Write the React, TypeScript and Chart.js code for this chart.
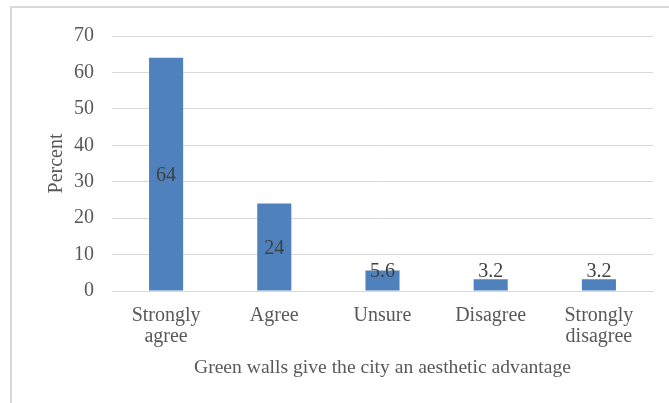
import React, { useEffect, useRef } from "react";
import { Chart, registerables } from "chart.js";

Chart.register(...registerables);

const categories: string[][] = [
  ["Strongly", "agree"],
  ["Agree"],
  ["Unsure"],
  ["Disagree"],
  ["Strongly", "disagree"],
];
const percentValues: number[] = [64, 24, 5.6, 3.2, 3.2];
const valueLabels: string[] = ["64", "24", "5.6", "3.2", "3.2"];
const yMin = 0;
const yMax = 70;
const yStep = 10;

const FONT = "'Liberation Serif', serif";
const FONT_SIZE = 20;
const BAR_COLOR = "#4F81BD";

// Light outer frame around the whole chart.
const framePlugin = {
  id: "frame",
  beforeDraw(chart: Chart) {
    const ctx = chart.ctx;
    ctx.save();
    ctx.strokeStyle = "#d9d9d9";
    ctx.lineWidth = 2;
    ctx.strokeRect(11, 7, chart.width + 50, chart.height + 50);
    ctx.restore();
  },
};

// Value labels: centred in the bar, lifted above short bars.
const valueLabelPlugin = {
  id: "valueLabels",
  afterDatasetsDraw(chart: Chart) {
    const ctx = chart.ctx;
    const meta = chart.getDatasetMeta(0);
    ctx.save();
    ctx.font = `${FONT_SIZE}px ${FONT}`;
    ctx.fillStyle = "#404040";
    ctx.textAlign = "center";
    ctx.textBaseline = "middle";
    meta.data.forEach((bar: any, i: number) => {
      const { x, y, base } = bar.getProps(["x", "y", "base"], true);
      const mid = (y + base) / 2;
      const ly = Math.min(mid, base - 21) + 2;
      ctx.fillText(valueLabels[i], x, ly);
    });
    ctx.restore();
  },
};

export default function App() {
  const canvasRef = useRef<HTMLCanvasElement | null>(null);

  useEffect(() => {
    document.body.style.margin = "0";
    const canvas = canvasRef.current;
    if (!canvas) return;
    const chart = new Chart(canvas, {
      type: "bar",
      data: {
        labels: categories,
        datasets: [
          {
            data: percentValues,
            backgroundColor: BAR_COLOR,
            categoryPercentage: 1,
            barPercentage: 0.315,
          },
        ],
      },
      options: {
        animation: false,
        responsive: false,
        maintainAspectRatio: false,
        layout: { padding: { left: 0, right: 16, top: 36, bottom: 0 } },
        plugins: {
          legend: { display: false },
          tooltip: { enabled: false },
        },
        scales: {
          x: {
            grid: { display: false, drawTicks: false },
            border: { display: true, color: "#d9d9d9", width: 1 },
            ticks: {
              color: "#595959",
              font: { family: FONT, size: FONT_SIZE, lineHeight: 1.05 },
              padding: 14,
              maxRotation: 0,
              autoSkip: false,
            },
            title: {
              display: true,
              text: "Green walls give the city an aesthetic advantage",
              color: "#595959",
              font: { family: FONT, size: 19.6, lineHeight: 1.2 },
              padding: { top: 0, bottom: 23 },
            },
            afterFit(scale: any) {
              scale.height = 112;
            },
          },
          y: {
            min: yMin,
            max: yMax,
            grid: { color: "#d9d9d9", lineWidth: 1, drawTicks: false },
            border: { display: false },
            ticks: {
              stepSize: yStep,
              color: "#595959",
              font: { family: FONT, size: FONT_SIZE },
              padding: 18,
            },
            title: {
              display: true,
              text: "Percent",
              color: "#595959",
              font: { family: FONT, size: FONT_SIZE, lineHeight: 1.2 },
              padding: { top: 45, bottom: 0 },
            },
            afterFit(scale: any) {
              scale.width = 112;
            },
          },
        },
      },
      plugins: [framePlugin, valueLabelPlugin],
    });
    return () => chart.destroy();
  }, []);

  return (
    <div style={{ position: "absolute", left: 0, top: 0, width: 669, height: 403, background: "#fff" }}>
      <canvas ref={canvasRef} width={669} height={403} style={{ display: "block" }} />
    </div>
  );
}
